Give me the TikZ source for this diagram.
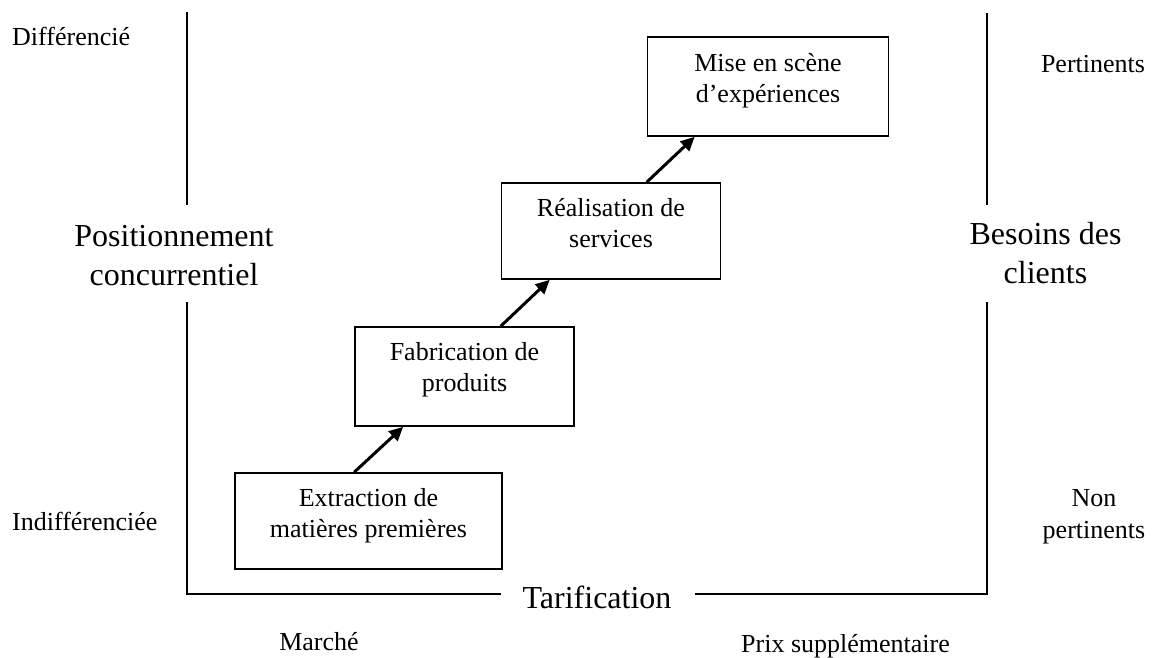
\documentclass[tikz,border=0pt]{standalone}
\usepackage{fontspec}
\setmainfont{Liberation Serif}
\usetikzlibrary{arrows.meta,calc}
\begin{document}
\begin{tikzpicture}[x=1pt,y=-1pt,
  stage/.style={draw=black,line width=1.6pt,inner sep=0pt},
  boxtext/.style={align=center,inner sep=0pt,font=\fontsize{26}{31}\selectfont},
  small/.style={inner sep=0pt,font=\fontsize{26}{31.5}\selectfont},
  big/.style={align=center,inner sep=0pt,font=\fontsize{32}{39}\selectfont},
  axis/.style={draw=black,line width=1.6pt},
  flow/.style={draw=black,line width=3pt,-{Triangle[length=14pt,width=13pt]}}
]
\useasboundingbox (0,0) rectangle (1159,657);

% frame lines
\coordinate (LT) at (187,12);
\coordinate (LM1) at (187,205);
\coordinate (LM2) at (187,302);
\coordinate (LB) at (187,594);
\coordinate (BM1) at (501,594);
\coordinate (BM2) at (695,594);
\coordinate (RB) at (987,594);
\coordinate (RM2) at (987,302);
\coordinate (RM1) at (987,205);
\coordinate (RT) at (987,13);
\draw[axis] (LT) -- (LM1);
\draw[axis] (LM2) -- (LB) -- (BM1);
\draw[axis] (BM2) -- (RB) -- (RM2);
\draw[axis] (RM1) -- (RT);

% stage boxes
\node[stage,minimum width=267pt,minimum height=96pt] (b1) at (368.5,521) {};
\node[stage,minimum width=219pt,minimum height=99pt] (b2) at (464.5,376.5) {};
\node[stage,minimum width=219pt,minimum height=96pt] (b3) at (611,231) {};
\node[stage,minimum width=241pt,minimum height=99pt] (b4) at (768,86.5) {};

% (base anchor of a two-line node = baseline of its last line)
\node[boxtext,anchor=base] (t1) at ($(b1.north)+(0,65)$) {Extraction de\\matières premières};
\node[boxtext,anchor=base] (t2) at ($(b2.north)+(0,65)$) {Fabrication de\\produits};
\node[boxtext,anchor=base] (t3) at ($(b3.north)+(0,65)$) {Réalisation de\\services};
\node[boxtext,anchor=base] (t4) at ($(b4.north)+(0,66.5)$) {Mise en scène\\d’expériences};

% arrows
\draw[flow] (b1.north -| b2.west) -- ([xshift=49pt]b2.south west);
\draw[flow] (b2.north -| b3.west) -- ([xshift=49pt]b3.south west);
\draw[flow] (b3.north -| b4.west) -- ([xshift=48pt]b4.south west);

% side labels
\node[small,anchor=base west] (dif) at (12,45) {Différencié};
\node[small,anchor=base west] (indif) at (12,530) {Indifférenciée};
\node[big,anchor=base] (pos) at (174,285) {Positionnement\\concurrentiel};
\node[big,anchor=base] (bes) at (1045.5,283) {Besoins des\\clients};
\node[small,anchor=base] (pert) at (1093,72) {Pertinents};
\node[small,align=center,anchor=base] (npert) at (1094,538) {Non\\pertinents};
\node[big,anchor=base] (tarif) at (597,608) {Tarification};
\node[small,anchor=base] (march) at (319,650) {Marché};
\node[small,anchor=base] (prix) at (845.5,652) {Prix supplémentaire};
\end{tikzpicture}
\end{document}
